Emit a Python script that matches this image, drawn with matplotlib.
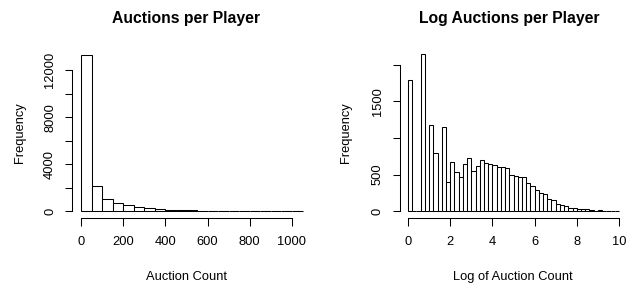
import matplotlib
matplotlib.use("Agg")
import matplotlib.pyplot as plt
import numpy as np

plt.rcParams["font.family"] = ["Liberation Sans", "DejaVu Sans"]

# histogram of raw auction counts (bins of 50)
count_edges = np.arange(0, 1051, 50)
count_freq = [13300, 2130, 1060, 700, 510, 340, 270, 200, 140, 115, 105,
              70, 50, 45, 40, 35, 30, 25, 0, 60, 0]

# histogram of log auction counts (bins of 0.2)
log_edges = np.round(np.arange(0, 10.01, 0.2), 1)
log_freq = [1790, 0, 0, 2140, 0, 1180, 795, 0, 1145, 395,
            668, 532, 468, 650, 723, 545, 614, 695, 659, 641,
            627, 600, 600, 595, 497, 475, 466, 466, 384, 350,
            288, 255, 243, 175, 150, 105, 88, 68, 45, 45,
            30, 38, 27, 14, 4, 14, 0, 0, 0, 0]

left_xticks = [0, 200, 400, 600, 800, 1000]
left_yticks = [0, 2000, 4000, 6000, 8000, 10000, 12000]
left_ylabels = ["0", "", "4000", "", "8000", "", "12000"]
right_xticks = [0, 2, 4, 6, 8, 10]
right_yticks = [0, 500, 1000, 1500, 2000]
right_ylabels = ["0", "500", "", "1500", ""]

W, H = 626, 287
fig = plt.figure(figsize=(W / 100, H / 100), dpi=100)


def box(x0, y0, x1, y1):
    return [x0 / W, 1 - y1 / H, (x1 - x0) / W, (y1 - y0) / H]


def r_hist(ax, edges, freq, xticks, yticks, ylabels):
    edges = np.asarray(edges, dtype=float)
    ax.bar(edges[:-1], freq, width=np.diff(edges), align="edge",
           facecolor="white", edgecolor="black", linewidth=0.75)
    for side in ["top", "right"]:
        ax.spines[side].set_visible(False)
    for side in ["left", "bottom"]:
        ax.spines[side].set_linewidth(0.75)
    ax.spines["bottom"].set_bounds(xticks[0], xticks[-1])
    ax.spines["left"].set_bounds(yticks[0], yticks[-1])
    ax.set_xticks(xticks)
    ax.set_xticklabels([str(t) for t in xticks])
    ax.set_yticks(yticks)
    ax.set_yticklabels(ylabels, rotation=90, va="center")
    ax.tick_params(axis="both", direction="out", length=5.4, width=0.75,
                   labelsize=9.3, colors="black")
    ax.tick_params(axis="x", pad=7.8)
    ax.tick_params(axis="y", pad=6.1)
    ax.patch.set_visible(False)


ax1 = fig.add_axes(box(72.1, 48.4, 311.4, 217.6))
r_hist(ax1, count_edges, count_freq, left_xticks, left_yticks, left_ylabels)
ax1.set_xlim(-42, 1092)
ax1.set_ylim(-532, 13832)

ax2 = fig.add_axes(box(399.6, 48.4, 627.4, 217.6))
r_hist(ax2, log_edges, log_freq, right_xticks, right_yticks, right_ylabels)
ax2.set_xlim(-0.4, 10.4)
ax2.set_ylim(-85.4, 2221.4)

# titles and axis labels
fig.text(186 / W, 1 - 23.3 / H, "Auctions per Player", ha="center",
         va="baseline", fontsize=11.3, fontweight="bold")
fig.text(508.8 / W, 1 - 23.3 / H, "Log Auctions per Player", ha="center",
         va="baseline", fontsize=11.3, fontweight="bold")
fig.text(186.5 / W, 1 - 280 / H, "Auction Count", ha="center",
         va="baseline", fontsize=9.3)
fig.text(512.6 / W, 1 - 280 / H, "Log of Auction Count", ha="center",
         va="baseline", fontsize=9.3)
fig.text(23.3 / W, 1 - 132.5 / H, "Frequency", ha="center", va="baseline",
         rotation=90, rotation_mode="anchor", fontsize=9.3)
fig.text(349 / W, 1 - 132.5 / H, "Frequency", ha="center", va="baseline",
         rotation=90, rotation_mode="anchor", fontsize=9.3)

fig.savefig("out.png", dpi=100, facecolor="white")
